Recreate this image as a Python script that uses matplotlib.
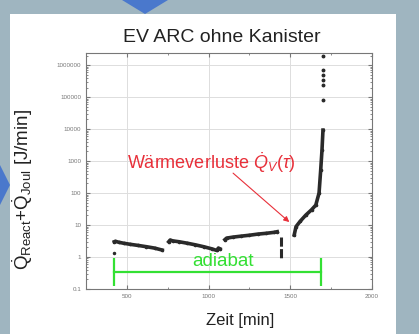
import matplotlib.pyplot as plt
from matplotlib.patches import Rectangle, Polygon

plt.rcParams["font.family"] = ["Liberation Sans", "DejaVu Sans"]
plt.rcParams["mathtext.fontset"] = "custom"
plt.rcParams["mathtext.rm"] = "Liberation Sans"
plt.rcParams["mathtext.it"] = "Liberation Sans:italic"

# measured data (Zeit in min, Q in J/min)
seg1_t = [423, 430, 450, 480, 520, 570, 620, 670, 716]
seg1_q = [3.0, 3.1, 2.9, 2.7, 2.5, 2.3, 2.1, 1.9, 1.65]
seg2_t = [756, 765, 780, 820, 870, 920, 970, 1020, 1051, 1060, 1070]
seg2_q = [3.0, 3.4, 3.2, 3.0, 2.7, 2.4, 2.1, 1.8, 1.6, 1.9, 1.8]
seg3_t = [1100, 1110, 1150, 1200, 1250, 1300, 1350, 1400, 1420]
seg3_q = [3.5, 3.9, 4.2, 4.5, 4.8, 5.2, 5.5, 5.9, 6.2]
drop_t = [1444, 1444, 1444, 1444, 1444, 1444]
drop_q = [4.3, 3.0, 2.0, 1.4, 1.0, 0.8]
seg4_t = [1524, 1535, 1560, 1595, 1630, 1656, 1676, 1686, 1694, 1700]
seg4_q = [4.9, 8.9, 13, 20.5, 30, 42, 100, 520, 2200, 9300]
top_t = [1700, 1700, 1700, 1700, 1700, 1700]
top_q = [8.1e4, 2.4e5, 3.4e5, 4.9e5, 7e5, 1.9e6]
extra_t = [422]
extra_q = [1.3]

adiabat_t = [422, 1690]
adiabat_q = [0.34, 0.34]

yticks = [0.1, 1, 10, 100, 1000, 10000, 100000, 1000000]
ytick_labels = ["0.1", "1", "10", "100", "1000", "10000", "100000", "1000000"]
xticks = [500, 1000, 1500, 2000]

fig = plt.figure(figsize=(4.19, 3.34), dpi=100)
fig.patch.set_facecolor("#9fb5c0")
fig.patches.append(Rectangle((10 / 419, 0), 386 / 419, 1 - 14 / 334,
                             transform=fig.transFigure, facecolor="white",
                             edgecolor="none", zorder=0))
# blue arrows of the slide
fig.patches.append(Polygon([(122 / 419, 1), (168 / 419, 1), (145 / 419, 1 - 14 / 334)],
                           transform=fig.transFigure, facecolor="#4a78cc",
                           edgecolor="none", zorder=1))
fig.patches.append(Polygon([(0, 1 - 165 / 334), (0, 1 - 205 / 334), (10 / 419, 1 - 185 / 334)],
                           transform=fig.transFigure, facecolor="#4a78cc",
                           edgecolor="none", zorder=1))

ax = fig.add_axes([86 / 419, 45 / 334, 286 / 419, 236 / 334])
ax.set_zorder(3)
ax.set_facecolor("white")

style = dict(color="#2a2a2a", lw=2.6, marker="o", ms=1.6)
ax.plot(seg1_t, seg1_q, **style)
ax.plot(seg2_t, seg2_q, **style)
ax.plot(seg3_t, seg3_q, **style)
ax.plot(drop_t, drop_q, color="#2a2a2a", lw=2.2, ls=(0, (3, 0.8)))
ax.plot(seg4_t, seg4_q, **style)
ax.plot(top_t, top_q, "o", color="#2a2a2a", ms=1.8)
ax.plot(extra_t, extra_q, "o", color="#2a2a2a", ms=1.5)

ax.plot(adiabat_t, adiabat_q, color="#33e033", lw=1.6, marker="|", ms=20, mew=1.6)
ax.text(900, 0.72, "adiabat", color="#33e033", fontsize=13.5, va="center")

ax.text(500, 870, "Wärmeverluste $\\dot{Q}_V(\\tau)$", color="#e8303a",
        fontsize=13, va="center")
ax.annotate("", xy=(1494, 12.4), xytext=(1150, 420),
            arrowprops=dict(arrowstyle="-|>", color="#e8303a", lw=0.8,
                            shrinkA=0, shrinkB=0, mutation_scale=8))

ax.set_yscale("log")
ax.set_xlim(250, 2000)
ax.set_ylim(0.1, 2.4e6)
ax.set_xticks(xticks)
ax.set_xticklabels([str(v) for v in xticks])
ax.set_yticks(yticks)
ax.set_yticklabels(ytick_labels)
ax.set_xticks([250, 750, 1250, 1750], minor=True)
ax.tick_params(which="both", direction="in", top=True, right=True,
               labelsize=4.5, labelcolor="#777777", color="#777777")
ax.tick_params(which="major", length=3)
ax.tick_params(which="minor", length=1.5)
ax.grid(True, which="major", color="#dddddd", lw=0.7)
for sp in ax.spines.values():
    sp.set_color("#777777")
    sp.set_linewidth(0.8)

ax.set_title("EV ARC ohne Kanister", fontsize=14, color="#222222", pad=8, x=0.476)
ax.set_xlabel("Zeit [min]", fontsize=12, color="#222222")
ax.xaxis.set_label_coords(0.538, -0.1)
ax.set_ylabel("$\\dot{\\mathrm{Q}}_{\\mathrm{React}}$+$\\dot{\\mathrm{Q}}_{\\mathrm{Joul}}$ [J/min]",
              fontsize=13.5, color="#222222")
ax.yaxis.set_label_coords(-0.18, 0.42)

fig.savefig("out.png", dpi=100, facecolor=fig.get_facecolor())
